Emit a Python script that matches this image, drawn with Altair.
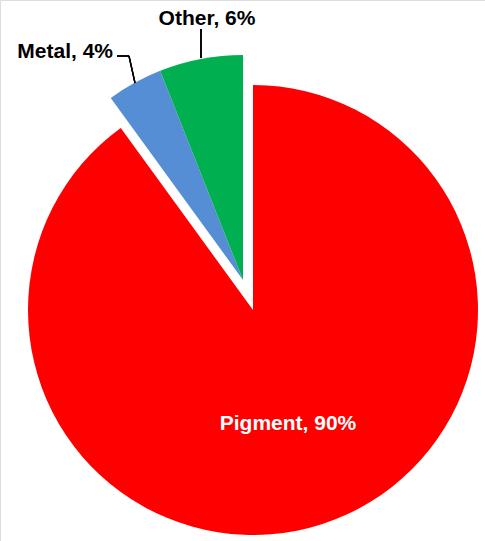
import altair as alt
import pandas as pd

categories = ["Pigment", "Metal", "Other"]
shares = [90, 4, 6]
colors = ["#FF0000", "#558ED5", "#00B050"]
order = [1, 2, 3]

df = pd.DataFrame({"category": categories, "share": shares, "order": order})

base = alt.Chart(df).transform_window(
    cum="sum(share)", sort=[alt.SortField("order")], frame=[None, 0]
).transform_calculate(
    start="datum.cum - datum.share",
    mid="datum.cum - datum.share / 2",
    label="datum.category + ', ' + datum.share + '%'",
)

theta_scale = alt.Scale(domain=[0, 100], range=[0, 6.283185307179586])
color_scale = alt.Scale(domain=categories, range=colors)

R = 225
cx, cy = 243, 280
px, py = 253, 310

pigment = base.transform_filter("datum.category == 'Pigment'").mark_arc(stroke=None).encode(
    theta=alt.Theta("start:Q", scale=theta_scale),
    theta2="cum:Q",
    color=alt.Color("category:N", scale=color_scale, legend=None),
    radius=alt.value(R),
    x=alt.value(px),
    y=alt.value(py),
)

others = base.transform_filter("datum.category != 'Pigment'").mark_arc(stroke=None).encode(
    theta=alt.Theta("start:Q", scale=theta_scale),
    theta2="cum:Q",
    color=alt.Color("category:N", scale=color_scale, legend=None),
    radius=alt.value(R),
    x=alt.value(cx),
    y=alt.value(cy),
)

font = "Liberation Sans"
fs = 21

pig_label = base.transform_filter("datum.category == 'Pigment'").mark_text(
    font=font, fontSize=fs, fontWeight="bold", color="white", align="center", baseline="alphabetic"
).encode(text="label:N", x=alt.value(288), y=alt.value(430))

other_label = base.transform_filter("datum.category == 'Other'").mark_text(
    font=font, fontSize=fs, fontWeight="bold", color="black", align="center", baseline="alphabetic"
).encode(text="label:N", x=alt.value(207), y=alt.value(25))

metal_label = base.transform_filter("datum.category == 'Metal'").mark_text(
    font=font, fontSize=fs, fontWeight="bold", color="black", align="right", baseline="alphabetic"
).encode(text="label:N", x=alt.value(113), y=alt.value(58))

lead_style = dict(color="black", strokeWidth=1.3)
lead1 = alt.Chart(df).mark_rule(**lead_style).encode(
    x=alt.value(117), x2=alt.value(129), y=alt.value(56), y2=alt.value(56)
)
lead2 = alt.Chart(df).mark_rule(**lead_style).encode(
    x=alt.value(129), x2=alt.value(135), y=alt.value(56), y2=alt.value(83)
)
lead3 = alt.Chart(df).mark_rule(**lead_style).encode(
    x=alt.value(201), x2=alt.value(201), y=alt.value(29), y2=alt.value(58)
)

chart = alt.layer(
    pigment, others, lead1, lead2, lead3, pig_label, other_label, metal_label
).properties(
    width=485, height=541, autosize=alt.AutoSizeParams(type="none"), padding=0
).configure_view(stroke=None).configure(background="white")

chart.save("out.html", embed_options={"renderer": "svg", "actions": False})
